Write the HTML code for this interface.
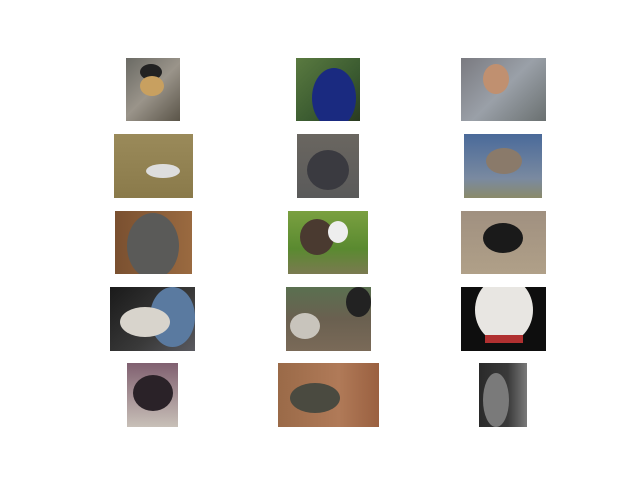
<!DOCTYPE html>
<html><head><meta charset="utf-8"><style>
body{margin:0;width:640px;height:480px;background:#fff;position:relative;overflow:hidden;font-family:"Liberation Sans",sans-serif}
.p{position:absolute;overflow:hidden}
.b{position:absolute;border-radius:50%}
</style></head><body>
<div class="p" style="left:126px;top:58px;width:54px;height:63px;background:linear-gradient(135deg,#6a6a64,#9a948a 50%,#5a5448)"><div class="b" style="left:14px;top:6px;width:22px;height:16px;background:#222"></div><div class="b" style="left:14px;top:18px;width:24px;height:20px;background:#c8a060"></div></div>
<div class="p" style="left:296px;top:58px;width:64px;height:63px;background:linear-gradient(135deg,#5a7a40,#3a5a30 60%,#2a3a20)"><div class="b" style="left:16px;top:10px;width:44px;height:60px;background:#1a2a80"></div></div>
<div class="p" style="left:461px;top:58px;width:85px;height:63px;background:linear-gradient(135deg,#7a7a80,#9aa0a8 50%,#6a7070)"><div class="b" style="left:22px;top:6px;width:26px;height:30px;background:#c09070"></div></div>
<div class="p" style="left:114px;top:134px;width:79px;height:64px;background:linear-gradient(180deg,#9a8a5a,#8a7a4a)"><div class="b" style="left:32px;top:30px;width:34px;height:14px;background:#ddd"></div></div>
<div class="p" style="left:297px;top:134px;width:62px;height:64px;background:linear-gradient(180deg,#6a6660,#5a5a5a)"><div class="b" style="left:10px;top:16px;width:42px;height:40px;background:#3a3a40"></div></div>
<div class="p" style="left:464px;top:134px;width:78px;height:64px;background:linear-gradient(180deg,#4a6a9a,#7a8aa0 70%,#8a8a6a)"><div class="b" style="left:22px;top:14px;width:36px;height:26px;background:#8a7a6a"></div></div>
<div class="p" style="left:115px;top:211px;width:77px;height:63px;background:linear-gradient(90deg,#7a5030,#9a6a40)"><div class="b" style="left:12px;top:2px;width:52px;height:66px;background:#5a5a58"></div></div>
<div class="p" style="left:288px;top:211px;width:80px;height:63px;background:linear-gradient(180deg,#7aa040,#5a8a30 60%,#7a7a50)"><div class="b" style="left:12px;top:8px;width:34px;height:36px;background:#4a3a30"></div><div class="b" style="left:40px;top:10px;width:20px;height:22px;background:#eee"></div></div>
<div class="p" style="left:461px;top:211px;width:85px;height:63px;background:linear-gradient(180deg,#a09080,#b0a088)"><div class="b" style="left:22px;top:12px;width:40px;height:30px;background:#1a1a1a"></div></div>
<div class="p" style="left:110px;top:287px;width:85px;height:64px;background:linear-gradient(135deg,#1a1a1a,#3a3a3a 60%,#5a5a60)"><div class="b" style="left:40px;top:0;width:45px;height:60px;background:#5a7aa0"></div><div class="b" style="left:10px;top:20px;width:50px;height:30px;background:#d8d4cc"></div></div>
<div class="p" style="left:286px;top:287px;width:85px;height:64px;background:linear-gradient(180deg,#5a7050,#6a6050 50%,#7a6a58)"><div class="b" style="left:4px;top:26px;width:30px;height:26px;background:#c8c4bc"></div><div class="b" style="left:60px;top:0;width:25px;height:30px;background:#222"></div></div>
<div class="p" style="left:461px;top:287px;width:85px;height:64px;background:#0e0e0e"><div class="b" style="left:14px;top:-10px;width:58px;height:66px;background:#e8e6e2"></div><div style="position:absolute;left:24px;top:48px;width:38px;height:8px;background:#b03030"></div></div>
<div class="p" style="left:127px;top:363px;width:51px;height:64px;background:linear-gradient(180deg,#806070,#c8c0b8)"><div class="b" style="left:6px;top:12px;width:40px;height:36px;background:#2a2228"></div></div>
<div class="p" style="left:278px;top:363px;width:101px;height:64px;background:linear-gradient(90deg,#9a6a48,#b07a58 60%,#9a6040)"><div class="b" style="left:12px;top:20px;width:50px;height:30px;background:#4a4a40"></div></div>
<div class="p" style="left:479px;top:363px;width:48px;height:64px;background:linear-gradient(90deg,#2a2a2a,#3a3a3a 60%,#7a7a7a)"><div class="b" style="left:4px;top:10px;width:26px;height:54px;background:#7a7a7a"></div></div>
</body></html>
